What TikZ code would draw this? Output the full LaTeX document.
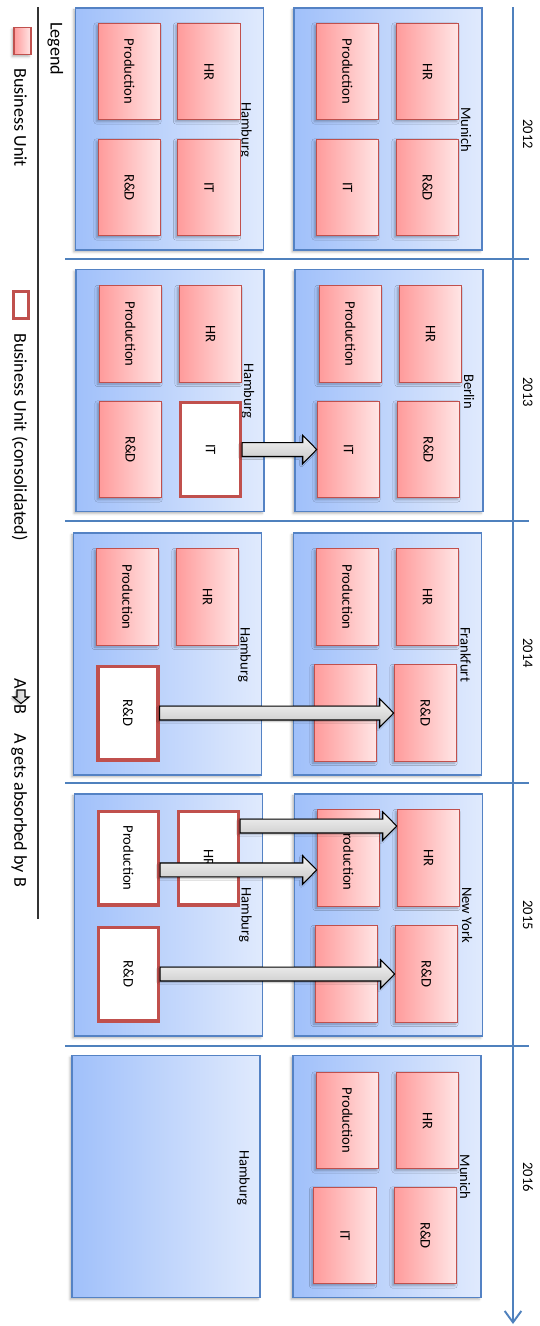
\documentclass[tikz,border=0pt]{standalone}
\usepackage{fontspec}
\setmainfont{Carlito}
\usetikzlibrary{calc,arrows.meta,shadows.blur}
\definecolor{cityL}{RGB}{160,192,250}
\definecolor{cityR}{RGB}{224,234,253}
\definecolor{cityB}{RGB}{84,130,196}
\definecolor{unitL}{RGB}{255,155,155}
\definecolor{unitR}{RGB}{255,230,230}
\definecolor{unitB}{RGB}{192,80,77}
\definecolor{tlc}{RGB}{79,129,189}
\newcommand\rt[1]{\rotatebox{-90}{#1}}
\newcommand\absorb[3][0pt]{%
  \path[blockarrow] let \p1=(#2.east), \p2=(#3.west) in
   ({\x1},{\y1+(#1)+3.97pt}) -- ({\x2-7.94pt},{\y1+(#1)+3.97pt}) -- ({\x2-7.94pt},{\y1+(#1)+8.1pt})
   -- ({\x2},{\y1+(#1)}) -- ({\x2-7.94pt},{\y1+(#1)-8.1pt}) -- ({\x2-7.94pt},{\y1+(#1)-3.97pt})
   -- ({\x1},{\y1+(#1)-3.97pt}) -- cycle;}
\tikzset{
  softshadow/.style={blur shadow={shadow xshift=-1.1pt, shadow yshift=-1.1pt, shadow blur radius=1.4pt, shadow opacity=30}},
  city/.style={draw=cityB, line width=0.75pt, left color=cityL, right color=cityR,
    minimum width=107pt, minimum height=137.7pt, inner sep=0pt, outer sep=0pt, softshadow},
  unit/.style={draw=unitB, line width=0.7pt, left color=unitL, right color=unitR,
    minimum width=35.5pt, minimum height=54.8pt, inner sep=0pt, font=\fontsize{8.3}{10}\selectfont, softshadow},
  cunit/.style={draw=unitB, line width=1.9pt, fill=white,
    minimum width=34pt, minimum height=53.3pt, inner sep=0pt, font=\fontsize{8.3}{10}\selectfont},
  lbl/.style={rotate=-90, anchor=base, inner sep=0pt, font=\fontsize{8.3}{10}\selectfont},
  leg/.style={rotate=-90, anchor=base west, inner sep=0pt, font=\fontsize{10.3}{12}\selectfont},
  blockarrow/.style={draw=black, line width=0.6pt, top color=gray!8, bottom color=gray!45, line join=miter,
    blur shadow={shadow xshift=-0.8pt, shadow yshift=-0.8pt, shadow blur radius=1pt, shadow opacity=30}},
  tline/.style={draw=tlc, line width=1.1pt},
  sepline/.style={draw=tlc, line width=1pt},
  legline/.style={draw=black!80, line width=0.6pt},
}
\begin{document}
\begin{tikzpicture}[x={(0.02cm,0)}, y={(0,-0.02cm)}]
\useasboundingbox (0,0) rectangle (539,1326);

% timeline
\coordinate (tlA) at (513,7);
\coordinate (tlB) at (513,1324);
\draw[tline, -{Straight Barb[length=6.5pt, width=9.5pt]}] (tlA) -- (tlB);
\foreach \i/\yy in {1/259, 2/521, 3/783, 4/1046} {
  \coordinate (sepL\i) at (65,\yy);
  \coordinate (sepR\i) at (529,\yy);
  \draw[sepline] (sepL\i) -- (sepR\i);
}
\node[lbl] (y12) at (523,134) {2012};
\node[lbl] (y13) at (523,392) {2013};
\node[lbl] (y14) at (523,653) {2014};
\node[lbl] (y15) at (523,915) {2015};
\node[lbl] (y16) at (523,1177) {2016};

% ---- 2012
\node[city] (mu12) at (388,129) {};
\node[city] (hh12) at (169.5,129) {};
\node[lbl] (mu12l) at (461,129.5) {Munich};
\node[lbl] (hh12l) at (241.5,129.5) {Hamburg};
\node[unit] (mu12hr) at (427.5,71.5) {\rt{HR}};
\node[unit] (mu12rd) at (427.5,187.5) {\rt{R\&D}};
\node[unit] (mu12pr) at (347.5,71.5) {\rt{Production}};
\node[unit] (mu12it) at (347.5,187.5) {\rt{IT}};
\node[unit] (hh12hr) at (209,71.5) {\rt{HR}};
\node[unit] (hh12it) at (209,187.5) {\rt{IT}};
\node[unit] (hh12pr) at (129.5,71.5) {\rt{Production}};
\node[unit] (hh12rd) at (129.5,187.5) {\rt{R\&D}};

% ---- 2013
\node[city] (be13) at (389,390.5) {};
\node[city] (hh13) at (170,390.5) {};
\node[lbl] (be13l) at (464,391.5) {Berlin};
\node[lbl] (hh13l) at (244,390.5) {Hamburg};
\node[unit] (be13pr) at (350.5,334) {\rt{Production}};
\node[unit] (be13hr) at (430.5,334) {\rt{HR}};
\node[unit] (be13it) at (348.5,449.5) {\rt{IT}};
\node[unit] (be13rd) at (428.5,449.5) {\rt{R\&D}};
\node[unit] (hh13pr) at (130.5,334) {\rt{Production}};
\node[unit] (hh13hr) at (210.5,334) {\rt{HR}};
\node[unit] (hh13rd) at (130.5,449.5) {\rt{R\&D}};
\node[cunit] (hh13it) at (210.5,449.5) {\rt{IT}};
\absorb{hh13it}{be13it}

% ---- 2014
\node[city] (fr14) at (387.5,654) {};
\node[city] (hh14) at (167.5,654) {};
\node[lbl] (fr14l) at (460.5,654.5) {Frankfurt};
\node[lbl] (hh14l) at (240.5,654.5) {Hamburg};
\node[unit] (fr14pr) at (347.5,597) {\rt{Production}};
\node[unit] (fr14hr) at (427.5,597) {\rt{HR}};
\node[unit] (fr14x) at (345.5,713) {};
\node[unit] (fr14rd) at (425.5,713) {\rt{R\&D}};
\node[unit] (hh14pr) at (127.5,597) {\rt{Production}};
\node[unit] (hh14hr) at (207.5,597) {\rt{HR}};
\node[cunit] (hh14rd) at (128,713) {\rt{R\&D}};
\absorb{hh14rd}{fr14rd}

% ---- 2015
\node[city] (ny15) at (388.5,915) {};
\node[city] (hh15) at (168.5,915) {};
\node[lbl] (ny15l) at (462,915) {New York};
\node[lbl] (hh15l) at (241.5,915) {Hamburg};
\node[unit] (ny15pr) at (348.5,858) {\rt{Production}};
\node[unit] (ny15hr) at (428.5,858) {\rt{HR}};
\node[unit] (ny15x) at (346.5,974) {};
\node[unit] (ny15rd) at (426.5,974) {\rt{R\&D}};
\node[cunit] (hh15pr) at (128.5,858) {\rt{Production}};
\node[cunit] (hh15hr) at (208.5,858) {\rt{HR}};
\node[cunit] (hh15rd) at (128.5,974) {\rt{R\&D}};
\absorb[18.2pt]{hh15hr}{ny15hr}
\absorb[-6.8pt]{hh15pr}{ny15pr}
\absorb{hh15rd}{ny15rd}

% ---- 2016
\node[city] (mu16) at (387,1176.5) {};
\node[city] (hh16) at (166,1176.5) {};
\node[lbl] (mu16l) at (460,1177) {Munich};
\node[lbl] (hh16l) at (239.5,1177.5) {Hamburg};
\node[unit] (mu16pr) at (347.5,1120.5) {\rt{Production}};
\node[unit] (mu16hr) at (427.5,1120.5) {\rt{HR}};
\node[unit] (mu16it) at (345,1235.5) {\rt{IT}};
\node[unit] (mu16rd) at (425.5,1235.5) {\rt{R\&D}};

% ---- legend
\coordinate (lgtop) at (38,7);
\coordinate (lgbot) at (38,919);
\draw[legline] (lgtop) -- (lgbot);
\node[leg] (legend) at (50.5,22) {Legend};
\node[unit, minimum width=9.6pt, minimum height=15.6pt] (lgu) at (22.5,41) {};
\node[leg] (lgut) at (14.5,68) {Business Unit};
\node[cunit, minimum width=8.4pt, minimum height=15.2pt] (lgc) at (21,305) {};
\node[leg] (lgct) at (14.5,333) {Business Unit (consolidated)};
\node[leg] (lgaa) at (14.5,678) {A};
\path[blockarrow, left color=gray!45, right color=gray!8]
  (17,690) -- (25,690) -- (25,697) -- (29,697) -- (21,703.5) -- (13,697) -- (17,697) -- cycle;
\node[leg] (lgbb) at (14.5,704) {B};
\node[leg] (lgat) at (14.5,733) {A gets absorbed by B};
\end{tikzpicture}
\end{document}
